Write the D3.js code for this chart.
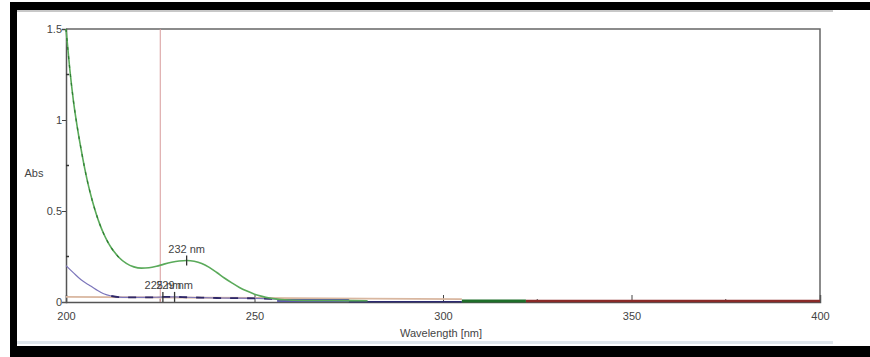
<!DOCTYPE html>
<html>
<head>
<meta charset="utf-8">
<script src="https://cdn.jsdelivr.net/npm/d3@7"></script>
<style>
  body { margin: 0; background: #fff; }
  svg text { font-family: "Liberation Sans", Arial, sans-serif; fill: #444; }
</style>
</head>
<body>
<svg id="chart"></svg>
<script>
// spectrum data
const greenWl  = [200, 201, 202, 203, 204, 205, 206, 207, 208, 209, 210, 211, 212, 213, 214, 216, 218, 220, 222, 224, 226, 228, 230, 232, 234, 236, 238, 240, 242, 244, 246, 248, 250, 252, 254, 256, 258, 260, 270, 280];
const greenAbs = [1.5, 1.28, 1.1, 0.96, 0.84, 0.73, 0.635, 0.555, 0.485, 0.425, 0.375, 0.333, 0.298, 0.27, 0.246, 0.212, 0.193, 0.186, 0.188, 0.196, 0.208, 0.218, 0.225, 0.228, 0.224, 0.212, 0.19, 0.162, 0.132, 0.105, 0.08, 0.06, 0.043, 0.031, 0.022, 0.016, 0.012, 0.01, 0.008, 0.007];

const purpleWl  = [200, 202, 204, 206, 208, 210, 212, 214, 216, 220, 224, 226, 229, 232, 236, 240, 250, 256];
const purpleAbs = [0.2, 0.16, 0.122, 0.095, 0.068, 0.045, 0.033, 0.027, 0.025, 0.025, 0.026, 0.028, 0.028, 0.026, 0.024, 0.022, 0.02, 0.016];

const tanWl  = [200, 250, 280, 305];
const tanAbs = [0.028, 0.022, 0.018, 0.016];

const blueWl = [256, 275], blueAbs = [0.008, 0.008];
const navyWl = [275, 305], navyAbs = [0.002, 0.002];
const dkGreenWl = [305, 322], dkGreenAbs = [0.006, 0.006];
const dkRedWl = [322, 400], dkRedAbs = [0.006, 0.006];

const peakWl = [232, 225.7, 228.8];
const peakAbs = [0.228, 0.027, 0.028];
const peakLabels = ['232 nm', '225 nm', '229 nm'];

const cursorWl = 225;

const xTicks = [200, 250, 300, 350, 400];
const xMinor = [225, 275, 325, 375];
const yTicks = [0, 0.5, 1, 1.5];
const yTickLabels = ['0', '0.5', '1', '1.5'];
const yMinor = [0.25, 0.75, 1.25];

const width = 870, height = 357;
const plotLeft = 66, plotRight = 820, plotTop = 29, plotBottom = 302;

const svg = d3.select('#chart').attr('width', width).attr('height', height);

// screenshot frame
svg.append('rect').attr('x', 10).attr('y', 2).attr('width', 860).attr('height', 8).attr('fill', '#000');
svg.append('rect').attr('x', 10).attr('y', 2).attr('width', 7).attr('height', 355).attr('fill', '#000');
svg.append('rect').attr('x', 10).attr('y', 346).attr('width', 860).attr('height', 11).attr('fill', '#000');
svg.append('rect').attr('x', 17).attr('y', 10).attr('width', 816).attr('height', 2).attr('fill', '#c8c8c8');
svg.append('rect').attr('x', 17).attr('y', 341).attr('width', 816).attr('height', 3).attr('fill', '#dfe6ec');

const x = d3.scaleLinear().domain([200, 400]).range([plotLeft, plotRight]);
const y = d3.scaleLinear().domain([0, 1.5]).range([plotBottom, plotTop]);

// plot box
svg.append('path')
  .attr('d', `M${plotLeft},${plotTop}H${plotRight}V${plotBottom}`)
  .attr('fill', 'none').attr('stroke', '#666').attr('stroke-width', 1.5);

// axes
const xAxis = d3.axisBottom(x).tickValues(xTicks).tickSize(-7).tickPadding(10).tickFormat(d3.format('d'));
const gx = svg.append('g').attr('transform', `translate(0,${plotBottom})`).call(xAxis);
gx.select('.domain').attr('stroke', '#555').attr('stroke-width', 1.5);
gx.selectAll('.tick line').attr('stroke', '#444');
gx.selectAll('.tick text').attr('font-size', 11).attr('fill', '#444');
gx.selectAll('.tick').filter(d => d === 200 || d === 400).select('line').remove();

gx.selectAll('.minor').data(xMinor).enter().append('line')
  .attr('x1', d => x(d)).attr('x2', d => x(d)).attr('y1', 0).attr('y2', -3)
  .attr('stroke', '#444');

const yAxis = d3.axisLeft(y).tickValues(yTicks).tickSize(4).tickPadding(0)
  .tickFormat((d, i) => yTickLabels[i]);
const gy = svg.append('g').attr('transform', `translate(${plotLeft},0)`).call(yAxis);
gy.select('.domain').attr('stroke', '#555').attr('stroke-width', 1.5);
gy.selectAll('.tick line').attr('stroke', '#444');
gy.selectAll('.tick text').attr('font-size', 11).attr('fill', '#444');
gy.selectAll('.tick').filter(d => d === 0).select('line').remove();

gy.selectAll('.minor').data(yMinor).enter().append('line')
  .attr('x1', 0).attr('x2', 3).attr('y1', d => y(d)).attr('y2', d => y(d))
  .attr('stroke', '#333').attr('stroke-width', 1.5);

svg.append('text').attr('x', (plotLeft + plotRight) / 2 - 2).attr('y', 337)
  .attr('text-anchor', 'middle').attr('font-size', 11).text('Wavelength [nm]');
svg.append('text').attr('x', 34).attr('y', 177)
  .attr('text-anchor', 'middle').attr('font-size', 11).text('Abs');

// cursor line
svg.append('line')
  .attr('x1', x(cursorWl)).attr('x2', x(cursorWl)).attr('y1', plotTop).attr('y2', plotBottom)
  .attr('stroke', '#d79a9a').attr('stroke-width', 1);

const zip = (wl, ab) => wl.map((w, i) => [w, ab[i]]);
const smooth = d3.line().x(d => x(d[0])).y(d => y(d[1])).curve(d3.curveMonotoneX);
const straight = d3.line().x(d => x(d[0])).y(d => y(d[1]));

function draw(gen, pts, color, w, dash) {
  svg.append('path').datum(pts)
    .attr('d', gen).attr('fill', 'none')
    .attr('stroke', color).attr('stroke-width', w)
    .attr('stroke-dasharray', dash || null);
}

// flat baseline pieces
draw(straight, zip(tanWl, tanAbs), '#d9b7a0', 1.8);
draw(straight, zip(navyWl, navyAbs), '#2c2a70', 1.5);
draw(straight, zip(blueWl, blueAbs), '#5d58aa', 3);
draw(straight, zip(dkGreenWl, dkGreenAbs), '#1f6e2a', 3);
draw(straight, zip(dkRedWl, dkRedAbs), '#8a2a28', 2.5);

// purple spectrum: thin solid with dashed overlay on the flat tail
const purplePts = zip(purpleWl, purpleAbs);
draw(smooth, purplePts, '#7c76bb', 1.2);
draw(smooth, purplePts.filter(d => d[0] >= 212), '#2f2868', 1.8, '8,9');

// green spectrum
const greenPts = zip(greenWl, greenAbs);
draw(smooth, greenPts, '#5aaa5a', 1.6);
draw(smooth, greenPts.filter(d => d[0] <= 214), '#2e7d32', 1.2, '3,6');

// peak picks (the 225/229 labels overlap in the original too)
peakWl.forEach((w, i) => {
  const px = x(w), py = y(peakAbs[i]);
  svg.append('line').attr('x1', px).attr('x2', px).attr('y1', py - 5).attr('y2', py + 5)
    .attr('stroke', '#333').attr('stroke-width', 1.3);
  svg.append('text').attr('x', px).attr('y', py - 8)
    .attr('text-anchor', 'middle').attr('font-size', 11).attr('fill', '#444')
    .text(peakLabels[i]);
});
</script>
</body>
</html>
